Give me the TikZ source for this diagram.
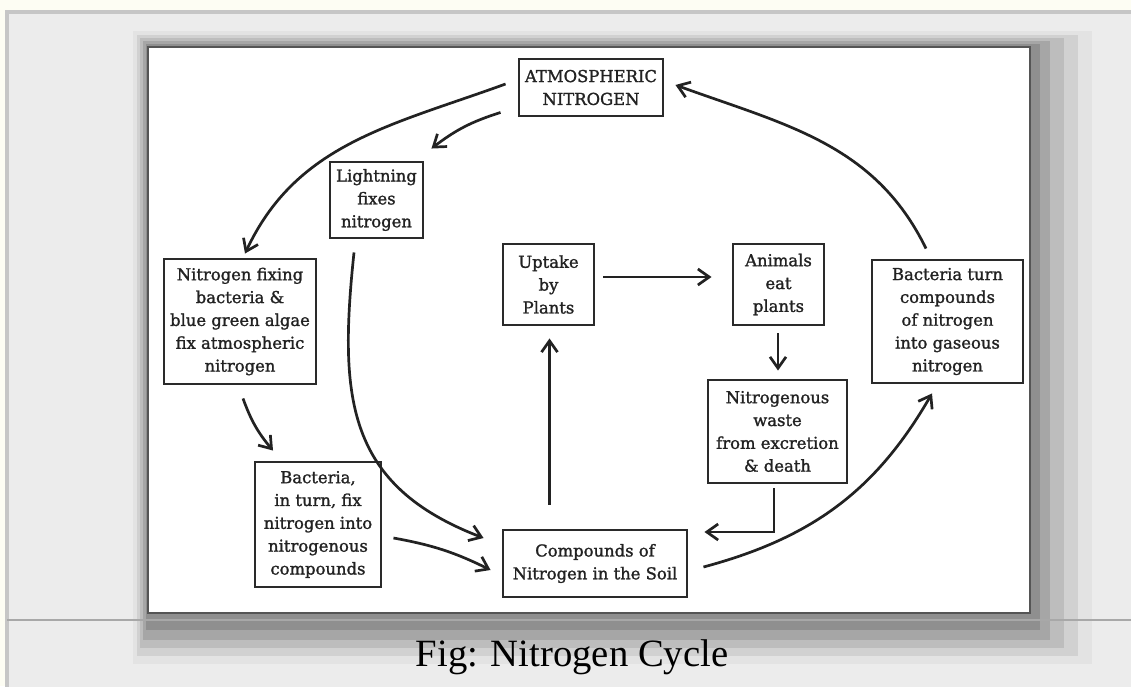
\documentclass[tikz,border=0pt]{standalone}
\usepackage{fontspec}
\setmainfont{DejaVu Serif}
\newfontfamily\stagefont{DejaVu Serif}[FakeBold=1.4]
\newfontfamily\captionfont{Liberation Serif}
\usetikzlibrary{arrows.meta,calc}

\definecolor{pagecream}{HTML}{FDFDF3}
\definecolor{panelgray}{HTML}{ECECEC}
\definecolor{panelline}{HTML}{C6C6C6}
\definecolor{boxline}{HTML}{2A2A2A}
\definecolor{inkgray}{HTML}{222222}

\begin{document}
\begin{tikzpicture}[x=0.03cm,y=0.03cm]
    \tikzset{stage/.style={rectangle, draw=boxline, line width=2.5pt, fill=white, text=inkgray, align=center, inner sep=0pt, font=\stagefont\fontsize{14}{19.5}\selectfont},
             flow/.style={-{Straight Barb[length=3.4mm,width=4.8mm]}, draw=inkgray, line width=2.3pt}};
    \useasboundingbox (0,0) rectangle (1131,686);

    % page and panel
    \fill[pagecream] (0,0) rectangle (1131,686);
    \draw[panelline, fill=panelgray, line width=3pt] (7,-10) rectangle (1145,674);

    % soft shadow round the figure
    \fill[black!11] (133,22) rectangle (1092,655);
    \fill[black!18] (137,30) rectangle (1078,651);
    \fill[black!26] (140,38) rectangle (1064,648);
    \fill[black!35] (143,46) rectangle (1050,645);
    \fill[black!44] (146,56) rectangle (1040,642);
    \draw[panelline!85!black, line width=2.5pt] (7,66) -- (1131,66);
    \draw[boxline!80, fill=white, line width=2pt] (148,73) rectangle (1030,639);

    % stages of the cycle
    \node[stage, minimum width=4.32cm, minimum height=1.71cm] (atmo) at (591,598.5) {ATMOSPHERIC\\NITROGEN};
    \node[stage, minimum width=2.79cm, minimum height=2.28cm] (lightning) at (376.5,486) {Lightning\\fixes\\nitrogen};
    \node[stage, minimum width=4.56cm, minimum height=3.75cm] (fixers) at (240,364.5) {Nitrogen fixing\\bacteria \&\\blue green algae\\fix atmospheric\\nitrogen};
    \node[stage, minimum width=3.78cm, minimum height=3.75cm] (bacteria) at (318,161.5) {Bacteria,\\in turn, fix\\nitrogen into\\nitrogenous\\compounds};
    \node[stage, minimum width=5.52cm, minimum height=2.01cm] (soil) at (595,122.5) {Compounds of\\Nitrogen in the Soil};
    \node[stage, minimum width=2.73cm, minimum height=2.43cm] (uptake) at (548.5,401.5) {Uptake\\by\\Plants};
    \node[stage, minimum width=2.73cm, minimum height=2.43cm] (animals) at (778.5,401.5) {Animals\\eat\\plants};
    \node[stage, minimum width=4.17cm, minimum height=3.09cm] (waste) at (777.5,254.5) {Nitrogenous\\waste\\from excretion\\\& death};
    \node[stage, minimum width=4.53cm, minimum height=3.69cm] (denitrify) at (947.5,364.5) {Bacteria turn\\compounds\\of nitrogen\\into gaseous\\nitrogen};

    % connectors
    \draw[flow] ([shift={(-12,3.5)}]atmo.west) to[out=200,in=65] ([shift={(5,4)}]fixers.north);
    \draw[flow] ([shift={(-17,5)}]atmo.south west) to[bend right=10] ([shift={(7,12)}]lightning.north east);
    \draw[flow] ([shift={(-22.5,-13)}]lightning.south) to[out=264,in=159,looseness=1.2] ([shift={(-18,25.5)}]soil.west);
    \draw[flow] ([shift={(3,-13)}]fixers.south) to[bend right=10] ([shift={(-45,10)}]bacteria.north);
    \draw[flow] ([shift={(11,-13.5)}]bacteria.east) to[bend left=8] ([shift={(-11,-6.5)}]soil.west);
    \draw[flow] ($(uptake.south |- soil.north)+(1,24)$) -- ([shift={(1,-12)}]uptake.south);
    \draw[flow] ([shift={(8,7.5)}]uptake.east) -- ([shift={(-20,7.5)}]animals.west);
    \draw[flow] ([shift={(-0.5,-7)}]animals.south) -- ([shift={(0.5,8)}]waste.north);
    \draw[flow] ([shift={(-3.5,-4)}]waste.south) |- ([shift={(16,31.5)}]soil.east);
    \draw[flow] ([shift={(15,-3.5)}]soil.east) to[out=15,in=240] ([shift={(-15.5,-9)}]denitrify.south);
    \draw[flow] ([shift={(-21.5,10)}]denitrify.north) to[out=116,in=-20] ([shift={(11,2.5)}]atmo.east);

    \node[font=\captionfont\fontsize{33}{36}\selectfont, anchor=base, text=black] (caption) at (572,20) {Fig: Nitrogen Cycle};
\end{tikzpicture}
\end{document}
